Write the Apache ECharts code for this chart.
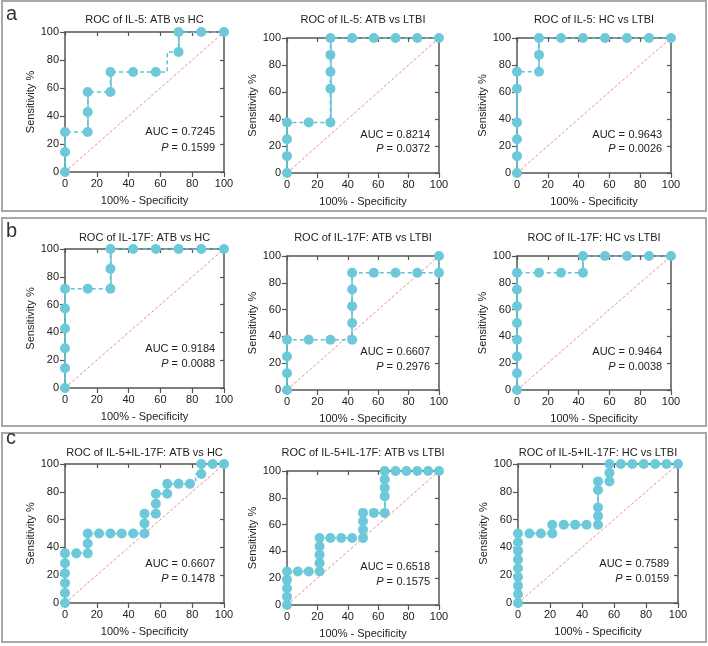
<!DOCTYPE html>
<html>
<head>
<meta charset="utf-8">
<script src="https://cdn.jsdelivr.net/npm/echarts@6/dist/echarts.min.js"></script>
<style>
  html, body { margin: 0; padding: 0; background: #fff; }
  #main { width: 708px; height: 646px; }
</style>
</head>
<body>
<div id="main"></div>
<script>
// chart texts
const chartTitles = [
  'ROC of IL-5: ATB vs HC', 'ROC of IL-5: ATB vs LTBI', 'ROC of IL-5: HC vs LTBI',
  'ROC of IL-17F: ATB vs HC', 'ROC of IL-17F: ATB vs LTBI', 'ROC of IL-17F: HC vs LTBI',
  'ROC of IL-5+IL-17F: ATB vs HC', 'ROC of IL-5+IL-17F: ATB vs LTBI', 'ROC of IL-5+IL-17F: HC vs LTBI'
];
const aucValues = ['0.7245', '0.8214', '0.9643', '0.9184', '0.6607', '0.9464', '0.6607', '0.6518', '0.7589'];
const pValues = ['0.1599', '0.0372', '0.0026', '0.0088', '0.2976', '0.0038', '0.1478', '0.1575', '0.0159'];
const panelLetters = ['a', 'b', 'c'];
const axisTicks = [0, 100, 20];
const diagonalX = [0, 100];
const diagonalY = [0, 100];

// 100% - specificity (x) and sensitivity % (y)
const il5AtbHcX = [0, 0, 0, 14.29, 14.29, 14.29, 28.57, 28.57, 42.86, 57.14, 71.43, 71.43, 85.71, 100];
const il5AtbHcY = [0, 14.29, 28.57, 28.57, 42.86, 57.14, 57.14, 71.43, 71.43, 71.43, 85.71, 100, 100, 100];

const il5AtbLtbiX = [0, 0, 0, 0, 14.29, 28.57, 28.57, 28.57, 28.57, 28.57, 42.86, 57.14, 71.43, 85.71, 100];
const il5AtbLtbiY = [0, 12.5, 25, 37.5, 37.5, 37.5, 62.5, 75, 87.5, 100, 100, 100, 100, 100, 100];

const il5HcLtbiX = [0, 0, 0, 0, 0, 0, 14.29, 14.29, 14.29, 28.57, 42.86, 57.14, 71.43, 85.71, 100];
const il5HcLtbiY = [0, 12.5, 25, 37.5, 62.5, 75, 75, 87.5, 100, 100, 100, 100, 100, 100, 100];

const il17AtbHcX = [0, 0, 0, 0, 0, 0, 14.29, 28.57, 28.57, 28.57, 42.86, 57.14, 71.43, 85.71, 100];
const il17AtbHcY = [0, 14.29, 28.57, 42.86, 57.14, 71.43, 71.43, 71.43, 85.71, 100, 100, 100, 100, 100, 100];

const il17AtbLtbiX = [0, 0, 0, 0, 14.29, 28.57, 42.86, 42.86, 42.86, 42.86, 42.86, 57.14, 71.43, 85.71, 100, 100];
const il17AtbLtbiY = [0, 12.5, 25, 37.5, 37.5, 37.5, 37.5, 50, 62.5, 75, 87.5, 87.5, 87.5, 87.5, 87.5, 100];

const il17HcLtbiX = [0, 0, 0, 0, 0, 0, 0, 0, 14.29, 28.57, 42.86, 42.86, 57.14, 71.43, 85.71, 100];
const il17HcLtbiY = [0, 12.5, 25, 37.5, 50, 62.5, 75, 87.5, 87.5, 87.5, 87.5, 100, 100, 100, 100, 100];

const comboAtbHcX = [0, 0, 0, 0, 0, 0, 7.14, 14.29, 14.29, 14.29, 21.43, 28.57, 35.71, 42.86, 50, 50, 50,
  57.14, 57.14, 57.14, 64.29, 64.29, 71.43, 78.57, 85.71, 85.71, 92.86, 100];
const comboAtbHcY = [0, 7.14, 14.29, 21.43, 28.57, 35.71, 35.71, 35.71, 42.86, 50, 50, 50, 50, 50, 50, 57.14, 64.29,
  64.29, 71.43, 78.57, 78.57, 85.71, 85.71, 85.71, 92.86, 100, 100, 100];

const comboAtbLtbiX = [0, 0, 0, 0, 0, 7.14, 14.29, 21.43, 21.43, 21.43, 21.43, 21.43, 28.57, 35.71, 42.86, 50, 50, 50, 50,
  57.14, 64.29, 64.29, 64.29, 64.29, 64.29, 71.43, 78.57, 85.71, 92.86, 100];
const comboAtbLtbiY = [0, 6.25, 12.5, 18.75, 25, 25, 25, 25, 31.25, 37.5, 43.75, 50, 50, 50, 50, 50, 56.25, 62.5, 68.75,
  68.75, 68.75, 81.25, 87.5, 93.75, 100, 100, 100, 100, 100, 100];

const comboHcLtbiX = [0, 0, 0, 0, 0, 0, 0, 0, 0, 7.14, 14.29, 21.43, 21.43, 28.57, 35.71, 42.86, 50, 50, 50, 50, 50,
  57.14, 57.14, 57.14, 64.29, 71.43, 78.57, 85.71, 92.86, 100];
const comboHcLtbiY = [0, 6.25, 12.5, 18.75, 25, 31.25, 37.5, 43.75, 50, 50, 50, 50, 56.25, 56.25, 56.25, 56.25, 56.25,
  62.5, 68.75, 81.25, 87.5, 87.5, 93.75, 100, 100, 100, 100, 100, 100, 100];

const curvesX = [il5AtbHcX, il5AtbLtbiX, il5HcLtbiX, il17AtbHcX, il17AtbLtbiX, il17HcLtbiX, comboAtbHcX, comboAtbLtbiX, comboHcLtbiX];
const curvesY = [il5AtbHcY, il5AtbLtbiY, il5HcLtbiY, il17AtbHcY, il17AtbLtbiY, il17HcLtbiY, comboAtbHcY, comboAtbLtbiY, comboHcLtbiY];

// layout: plot boxes [left, top, width, height]
const boxes = [
  [65, 32, 159, 140], [287, 38, 152, 135], [517, 38, 154, 135],
  [65, 249, 159, 139], [287, 256, 152, 134], [517, 256, 154, 134],
  [65, 464, 159, 139], [287, 471, 152, 134], [518, 464, 160, 139]
];
const frames = [[2, 1, 704, 210], [2, 218, 704, 208], [2, 433, 704, 209]];
const letterY = [14, 231, 438];
const titleTop = [14, 14, 14, 232, 232, 232, 447, 447, 447];

const font = '"Liberation Sans", Arial, Helvetica, sans-serif';
const axisColor = '#555';
const textColor = '#222';
const curveColor = '#62c2d2';
const dotColor = '#6dc9d9';

var chart = echarts.init(document.getElementById('main'));

var grid = [], xAxis = [], yAxis = [], series = [], title = [], graphic = [];

const axisBase = (gi) => ({
  gridIndex: gi,
  type: 'value',
  min: axisTicks[0],
  max: axisTicks[1],
  interval: axisTicks[2],
  splitLine: { show: false },
  axisLine: { onZero: false, lineStyle: { color: axisColor, width: 1.5 } },
  axisTick: { length: 5, lineStyle: { color: axisColor, width: 1.2 } },
  axisLabel: { fontSize: 11, color: textColor, fontFamily: font, margin: 6 },
  nameTextStyle: { fontSize: 11, color: textColor, fontFamily: font }
});

boxes.forEach((b, i) => {
  grid.push({ left: b[0], top: b[1], width: b[2], height: b[3] });

  title.push({
    text: chartTitles[i],
    left: b[0] + b[2] / 2,
    top: titleTop[i],
    textAlign: 'center',
    padding: 0,
    textStyle: { fontSize: 11, fontWeight: 'normal', color: textColor, fontFamily: font }
  });

  // bottom + top
  xAxis.push(Object.assign(axisBase(i), {
    position: 'bottom', name: '100% - Specificity', nameLocation: 'middle', nameGap: 23
  }));
  var xTop = axisBase(i);
  xTop.position = 'top';
  xTop.axisLabel = { show: false };
  xTop.axisTick = { inside: true, length: 4, lineStyle: { color: axisColor, width: 1.2 } };
  xAxis.push(xTop);

  // left + right
  yAxis.push(Object.assign(axisBase(i), {
    position: 'left', name: 'Sensitivity %', nameLocation: 'middle', nameGap: 28
  }));
  var yRight = axisBase(i);
  yRight.position = 'right';
  yRight.axisLabel = { show: false };
  yRight.axisTick = { inside: true, length: 4, lineStyle: { color: axisColor, width: 1.2 } };
  yAxis.push(yRight);

  var xs = curvesX[i], ys = curvesY[i];
  var pts = xs.map((x, k) => [x, ys[k]]);
  var verticals = [];
  for (var k = 1; k < xs.length; k++) {
    if (xs[k] === xs[k - 1]) verticals.push({ coords: [[xs[k - 1], ys[k - 1]], [xs[k], ys[k]]] });
  }

  series.push({
    type: 'line', xAxisIndex: 2 * i, yAxisIndex: 2 * i, silent: true,
    data: diagonalX.map((x, k) => [x, diagonalY[k]]),
    showSymbol: false, z: 1,
    lineStyle: { color: '#f08a8a', width: 1, type: [3, 2] }
  });
  series.push({
    type: 'line', xAxisIndex: 2 * i, yAxisIndex: 2 * i, silent: true,
    step: 'middle', data: pts, showSymbol: false, z: 2,
    lineStyle: { color: curveColor, width: 1.5, type: [4, 3] }
  });
  series.push({
    type: 'lines', coordinateSystem: 'cartesian2d', xAxisIndex: 2 * i, yAxisIndex: 2 * i,
    silent: true, data: verticals, z: 3,
    lineStyle: { color: curveColor, width: 1.5, opacity: 1 }
  });
  series.push({
    type: 'scatter', xAxisIndex: 2 * i, yAxisIndex: 2 * i, data: pts, z: 4,
    symbolSize: 10, clip: false,
    itemStyle: { color: dotColor, opacity: 1 }
  });

  // AUC and P, "=" lined up
  var right = b[0] + b[2], bottom = b[1] + b[3];
  var aucY = bottom - 0.283 * b[3], pY = bottom - 0.175 * b[3];
  var txt = { fontSize: 11, fontFamily: font, fill: textColor, verticalAlign: 'middle' };
  graphic.push({ type: 'text', x: right - 46, y: aucY, style: Object.assign({ text: 'AUC =', align: 'right' }, txt) });
  graphic.push({ type: 'text', x: right - 42.5, y: aucY, style: Object.assign({ text: aucValues[i], align: 'left' }, txt) });
  graphic.push({ type: 'text', x: right - 46, y: pY, style: Object.assign({
    text: '{i|P} =', align: 'right',
    rich: { i: { fontStyle: 'italic', fontSize: 11, fontFamily: font, fill: textColor } }
  }, txt) });
  graphic.push({ type: 'text', x: right - 42.5, y: pY, style: Object.assign({ text: pValues[i], align: 'left' }, txt) });
});

frames.forEach((f, j) => {
  graphic.push({
    type: 'rect', shape: { x: f[0], y: f[1], width: f[2], height: f[3] },
    style: { fill: 'none', stroke: '#a8a8a8', lineWidth: 2 }, z: -1
  });
  graphic.push({
    type: 'text', x: 6, y: letterY[j],
    style: { text: panelLetters[j], fontSize: 20, fontFamily: font, fill: '#333', verticalAlign: 'middle' }
  });
});

var option = {
  backgroundColor: '#fff',
  animation: false,
  title: title,
  grid: grid,
  xAxis: xAxis,
  yAxis: yAxis,
  series: series,
  graphic: graphic
};

chart.setOption(option);
</script>
</body>
</html>
